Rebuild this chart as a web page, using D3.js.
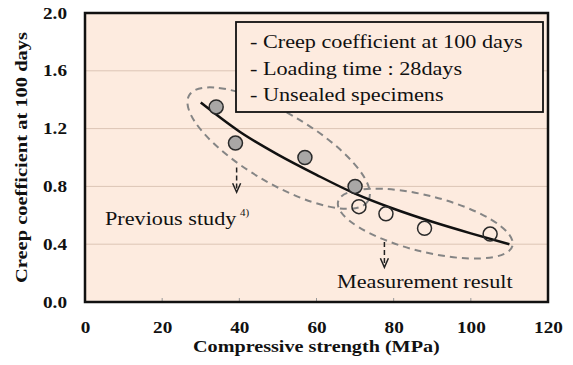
<!DOCTYPE html>
<html>
<head>
<meta charset="utf-8">
<script src="https://cdn.jsdelivr.net/npm/d3@7"></script>
<style>
  body { margin: 0; background: #fff; }
  svg text { font-family: "Liberation Serif", "Times New Roman", "DejaVu Serif", serif; }
</style>
</head>
<body>
<svg id="chart" width="573" height="365"></svg>
<script>
// data
const xTicks = [0, 20, 40, 60, 80, 100, 120];
const yTicks = [0.0, 0.4, 0.8, 1.2, 1.6, 2.0];

// previous study (grey dots)
const prevStrength = [34, 39, 57, 70];
const prevCreep = [1.35, 1.10, 1.00, 0.80];

// measurement result (open dots)
const measStrength = [71, 78, 88, 105];
const measCreep = [0.66, 0.61, 0.51, 0.47];

// fitted trend curve
const fitStrength = [30, 40, 50, 60, 70, 80, 90, 100, 110];
const fitCreep = [1.38, 1.18, 1.02, 0.88, 0.75, 0.645, 0.555, 0.475, 0.40];

const boxLines = ['- Creep coefficient at 100 days', '- Loading time : 28days', '- Unsealed specimens'];

const serif = '"Liberation Serif", "Times New Roman", serif';
const svg = d3.select('#chart');
const margin = { top: 13, right: 25, bottom: 63, left: 85 };
const width = 573 - margin.left - margin.right;
const height = 365 - margin.top - margin.bottom;

const x = d3.scaleLinear().domain([0, 120]).range([margin.left, margin.left + width]);
const y = d3.scaleLinear().domain([0, 2]).range([margin.top + height, margin.top]);

// the original figure is a bit stretched sideways
function stretch(sel, k) {
  sel.each(function () {
    const w = this.getComputedTextLength();
    d3.select(this).attr('textLength', w * k).attr('lengthAdjust', 'spacingAndGlyphs');
  });
}

// plot background
svg.append('rect')
  .attr('x', x(0)).attr('y', y(2))
  .attr('width', width).attr('height', height)
  .attr('fill', '#fdebdf');

// grid lines
svg.append('g')
  .selectAll('line')
  .data(yTicks.slice(1, -1))
  .join('line')
  .attr('x1', x(0)).attr('x2', x(120))
  .attr('y1', d => y(d)).attr('y2', d => y(d))
  .attr('stroke', '#dcc5b6').attr('stroke-width', 1);

// small inner ticks at the bottom
svg.append('g')
  .selectAll('line')
  .data(xTicks.slice(1, -1))
  .join('line')
  .attr('x1', d => x(d)).attr('x2', d => x(d))
  .attr('y1', y(0)).attr('y2', y(0) - 4)
  .attr('stroke', '#999').attr('stroke-width', 1);

// axes labels
const xAxis = svg.append('g')
  .attr('transform', `translate(0,${y(0)})`)
  .attr('font-family', serif)
  .call(d3.axisBottom(x).tickValues(xTicks).tickSize(0).tickPadding(20).tickFormat(d3.format('d')));
xAxis.select('.domain').remove();
xAxis.selectAll('text')
  .attr('font-size', 16).attr('font-weight', 'bold').attr('fill', '#111')
  .call(stretch, 1.2);

const yAxis = svg.append('g')
  .attr('transform', `translate(${x(0)},0)`)
  .attr('font-family', serif)
  .call(d3.axisLeft(y).tickValues(yTicks).tickSize(0).tickPadding(18).tickFormat(d3.format('.1f')));
yAxis.select('.domain').remove();
yAxis.selectAll('text')
  .attr('font-size', 16).attr('font-weight', 'bold').attr('fill', '#111')
  .call(stretch, 1.2);

// frame
svg.append('rect')
  .attr('x', x(0)).attr('y', y(2))
  .attr('width', width).attr('height', height)
  .attr('fill', 'none').attr('stroke', '#111').attr('stroke-width', 2.5);

// axis titles
svg.append('text')
  .attr('x', 193).attr('y', 352)
  .attr('font-size', 16).attr('font-weight', 'bold').attr('fill', '#111')
  .text('Compressive strength (MPa)')
  .call(stretch, 1.26);

svg.append('text')
  .attr('transform', `translate(27,${(y(0) + y(2)) / 2}) rotate(-90)`)
  .attr('text-anchor', 'middle')
  .attr('font-size', 16).attr('font-weight', 'bold').attr('fill', '#111')
  .text('Creep coefficient at 100 days')
  .call(stretch, 1.28);

// dashed ellipses (major axis ends in data units)
const ellipses = [
  { x1: 27.0, y1: 1.43, x2: 73.4, y2: 0.70, ry: 35 },
  { x1: 65.6, y1: 0.695, x2: 110.8, y2: 0.39, ry: 28 }
];
ellipses.forEach(e => {
  const px1 = x(e.x1), py1 = y(e.y1), px2 = x(e.x2), py2 = y(e.y2);
  const cx = (px1 + px2) / 2, cy = (py1 + py2) / 2;
  const rx = Math.hypot(px2 - px1, py2 - py1) / 2;
  const ang = Math.atan2(py2 - py1, px2 - px1) * 180 / Math.PI;
  svg.append('ellipse')
    .attr('cx', cx).attr('cy', cy).attr('rx', rx).attr('ry', e.ry)
    .attr('transform', `rotate(${ang},${cx},${cy})`)
    .attr('fill', 'none').attr('stroke', '#858585')
    .attr('stroke-width', 2).attr('stroke-dasharray', '7,5');
});

// dashed arrows
const arrows = [
  { x: 39.3, from: 0.93, to: 0.76 },
  { x: 77.6, from: 0.415, to: 0.24 }
];
arrows.forEach(a => {
  svg.append('line')
    .attr('x1', x(a.x)).attr('x2', x(a.x))
    .attr('y1', y(a.from)).attr('y2', y(a.to) - 1)
    .attr('stroke', '#222').attr('stroke-width', 1.5).attr('stroke-dasharray', '5,3');
  svg.append('path')
    .attr('d', `M${x(a.x) - 4},${y(a.to) - 9} L${x(a.x)},${y(a.to)} L${x(a.x) + 4},${y(a.to) - 9}`)
    .attr('fill', 'none').attr('stroke', '#222').attr('stroke-width', 1.5);
});

// trend curve
const line = d3.line()
  .x((d, i) => x(fitStrength[i]))
  .y(d => y(d))
  .curve(d3.curveMonotoneX);
svg.append('path')
  .attr('d', line(fitCreep))
  .attr('fill', 'none').attr('stroke', '#111').attr('stroke-width', 2.5);

// markers
svg.append('g')
  .selectAll('circle')
  .data(prevCreep)
  .join('circle')
  .attr('cx', (d, i) => x(prevStrength[i]))
  .attr('cy', d => y(d))
  .attr('r', 7)
  .attr('fill', '#a9a7a6').attr('stroke', '#2a2a2a').attr('stroke-width', 1.5);

svg.append('g')
  .selectAll('circle')
  .data(measCreep)
  .join('circle')
  .attr('cx', (d, i) => x(measStrength[i]))
  .attr('cy', d => y(d))
  .attr('r', 7)
  .attr('fill', 'none').attr('stroke', '#2a2a2a').attr('stroke-width', 1.5);

// condition box
svg.append('rect')
  .attr('x', 236).attr('y', 22).attr('width', 307).attr('height', 90)
  .attr('fill', '#fdebdf').attr('stroke', '#111').attr('stroke-width', 1.8);
svg.append('g')
  .selectAll('text')
  .data(boxLines)
  .join('text')
  .attr('x', 250).attr('y', (d, i) => 48 + i * 26.5)
  .attr('font-size', 18.5).attr('fill', '#111')
  .text(d => d)
  .call(stretch, 1.2);

// annotations
const prevLabel = svg.append('text')
  .attr('x', 105).attr('y', 225)
  .attr('font-size', 18.5).attr('fill', '#111')
  .text('Previous study');
stretch(prevLabel, 1.2);
svg.append('text')
  .attr('x', 240).attr('y', 216)
  .attr('font-size', 11).attr('fill', '#111')
  .text('4)');

svg.append('text')
  .attr('x', 337).attr('y', 288)
  .attr('font-size', 18.5).attr('fill', '#111')
  .text('Measurement result')
  .call(stretch, 1.2);
</script>
</body>
</html>
